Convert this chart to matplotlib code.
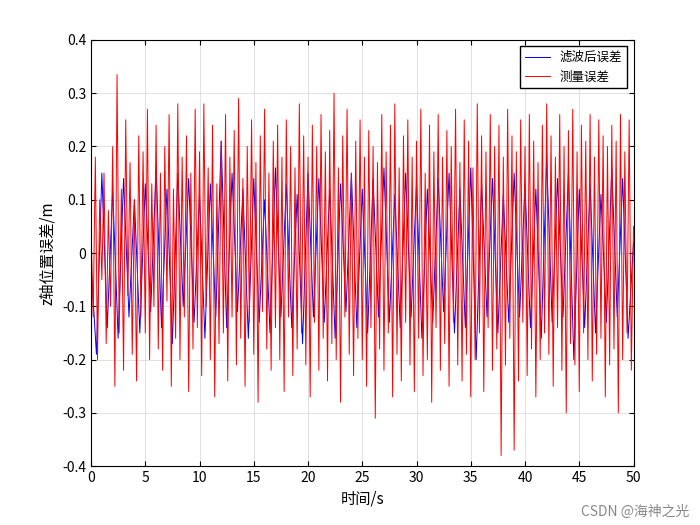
import matplotlib
matplotlib.use("Agg")
import matplotlib.pyplot as plt
import numpy as np

plt.rcParams['font.family'] = ['Noto Sans CJK SC', 'DejaVu Sans']

meas = [0.05,-0.12,0.18,-0.2,0.1,-0.05,0.15,-0.17,0.08,-0.1,
0.2,-0.25,0.335,-0.15,0.12,-0.22,0.25,-0.08,0.17,-0.19,
0.1,-0.24,0.22,-0.12,0.19,-0.15,0.27,-0.2,0.13,-0.1,
0.24,-0.18,0.15,-0.22,0.2,-0.09,0.26,-0.25,0.12,-0.16,
0.28,-0.2,0.18,-0.12,0.22,-0.26,0.15,-0.18,0.27,-0.14,
0.19,-0.23,0.28,-0.1,0.16,-0.2,0.24,-0.27,0.13,-0.17,
0.21,-0.15,0.26,-0.24,0.18,-0.12,0.23,-0.21,0.29,-0.16,
0.14,-0.25,0.2,-0.13,0.25,-0.19,0.17,-0.28,0.22,-0.11,
0.27,-0.18,0.15,-0.22,0.21,-0.14,0.24,-0.2,0.18,-0.26,
0.25,-0.12,0.2,-0.23,0.16,-0.18,0.28,-0.15,0.22,-0.21,
0.18,-0.27,0.24,-0.13,0.2,-0.22,0.26,-0.16,0.19,-0.24,
0.23,-0.17,0.3,-0.2,0.16,-0.28,0.22,-0.12,0.27,-0.19,
0.15,-0.23,0.21,-0.16,0.25,-0.2,0.18,-0.25,0.23,-0.14,
0.2,-0.31,0.17,-0.18,0.26,-0.22,0.19,-0.15,0.24,-0.27,
0.28,-0.19,0.16,-0.24,0.22,-0.13,0.25,-0.21,0.18,-0.26,
0.21,-0.16,0.27,-0.23,0.15,-0.2,0.24,-0.28,0.19,-0.14,
0.26,-0.22,0.18,-0.17,0.23,-0.25,0.2,-0.13,0.27,-0.21,
0.17,-0.24,0.25,-0.19,0.21,-0.27,0.16,-0.2,0.28,-0.15,
0.22,-0.26,0.19,-0.14,0.26,-0.22,0.2,-0.18,0.24,-0.38,
0.18,-0.21,0.27,-0.16,0.22,-0.37,0.19,-0.24,0.25,-0.13,
0.2,-0.23,0.26,-0.18,0.21,-0.27,0.17,-0.2,0.24,-0.15,
0.28,-0.19,0.22,-0.25,0.18,-0.14,0.26,-0.22,0.2,-0.3,
0.23,-0.17,0.27,-0.21,0.19,-0.26,0.24,-0.15,0.21,-0.2,
0.26,-0.24,0.18,-0.19,0.25,-0.16,0.22,-0.27,0.2,-0.21,
0.24,-0.18,0.21,-0.3,0.26,-0.2,0.19,-0.15,0.25,-0.22,
0.05]
filt = [-0.02,-0.19,0.15,-0.14,0.12,-0.16,0.14,-0.12,0.1,-0.15,
0.13,-0.11,0.16,-0.14,0.12,-0.17,0.15,-0.1,0.14,-0.13,
0.11,-0.16,0.13,-0.12,0.21,-0.14,0.15,-0.11,0.12,-0.16,
0.14,-0.13,0.1,-0.15,0.16,-0.12,0.13,-0.14,0.11,-0.17,
0.15,-0.12,0.14,-0.13,0.12,-0.16,0.13,-0.11,0.15,-0.14,
0.12,-0.15,0.14,-0.12,0.16,-0.13,0.11,-0.14,0.15,-0.12,
0.13,-0.16,0.12,-0.13,0.14,-0.11,0.15,-0.15,0.12,-0.14,
0.16,-0.2,0.13,-0.12,0.14,-0.15,0.11,-0.13,0.15,-0.12,
0.13,-0.14,0.12,-0.16,0.18,-0.13,0.14,-0.12,0.15,-0.2,
0.12,-0.14,0.13,-0.15,0.11,-0.13,0.16,-0.12,0.14,-0.16,
0.02]
t_meas = np.linspace(0, 50, len(meas))
t_filt = np.linspace(0, 50, len(filt))

fig = plt.figure(figsize=(7, 5.25), dpi=100)
ax = fig.add_axes([0.13, 0.112, 0.775, 0.812])
ax.plot(t_filt, filt, color='blue', lw=0.7, label='滤波后误差')
ax.plot(t_meas, meas, color='red', lw=0.7, label='测量误差')
ax.set_xlim(0, 50)
ax.set_ylim(-0.4, 0.4)
ax.set_xticks(np.arange(0, 51, 5))
ax.set_yticks(np.arange(-0.4, 0.41, 0.1))
ax.set_yticklabels(['-0.4','-0.3','-0.2','-0.1','0','0.1','0.2','0.3','0.4'])
ax.grid(True, color='#dcdcdc', lw=0.6)
ax.tick_params(direction='in', labelsize=10, top=True, right=True)
ax.set_xlabel('时间/s', fontsize=11)
ax.set_ylabel('z轴位置误差/m', fontsize=11)
leg = ax.legend(loc='upper right', fontsize=9, fancybox=False, framealpha=1, edgecolor='black')
fig.text(0.985, 0.012, 'CSDN @海神之光', ha='right', va='bottom', color='#888888', fontsize=10)
fig.savefig('out.png')
